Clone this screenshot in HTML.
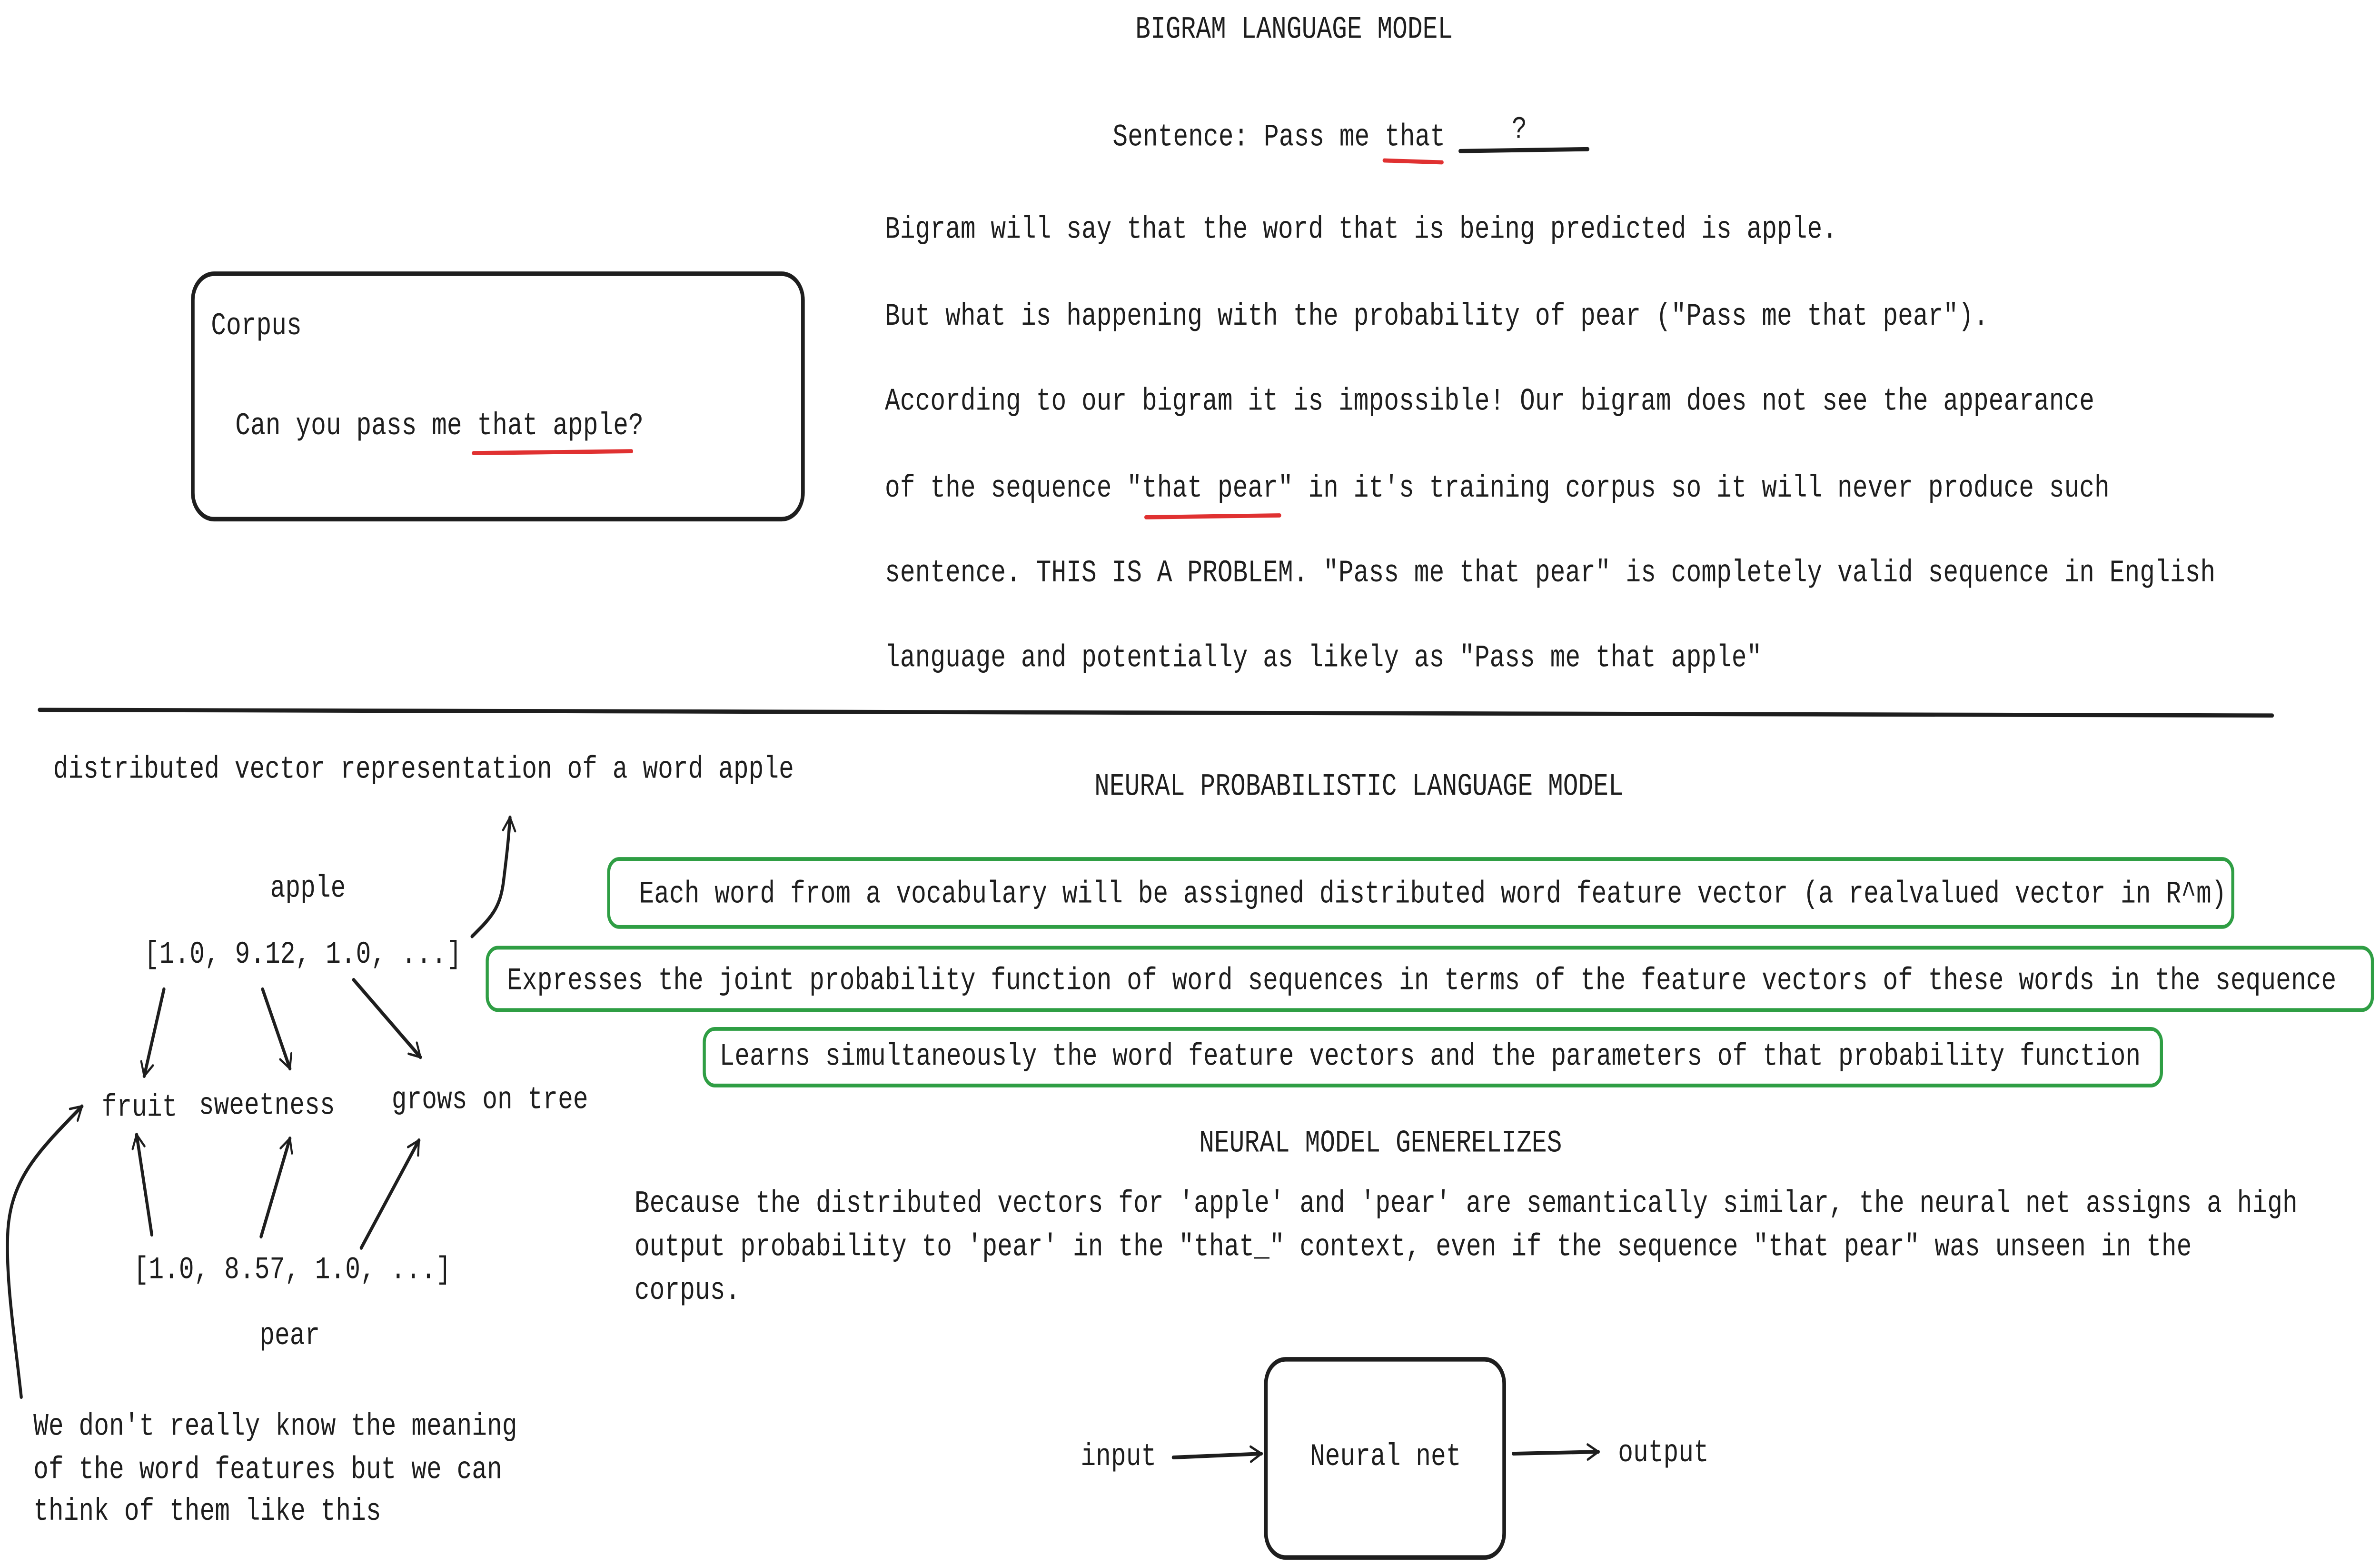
<!DOCTYPE html>
<html><head><meta charset="utf-8"><style>
html,body{margin:0;padding:0;background:#fff;width:100%;height:100%;overflow:hidden;}
svg{display:block;width:100vw;height:100vh;}
text{font-family:"Liberation Mono",monospace;font-size:16.6px;fill:#1e1e1e;}
</style></head><body>
<svg viewBox="0 0 1568 829.5" preserveAspectRatio="none" xmlns="http://www.w3.org/2000/svg">
<defs>
<marker id="a" viewBox="0 0 20 20" refX="18" refY="10" markerWidth="10" markerHeight="10" markerUnits="userSpaceOnUse" orient="auto">
<path d="M4,2 L18,10 L4,18" fill="none" stroke="#1e1e1e" stroke-width="2.6" stroke-linecap="round" stroke-linejoin="round"/>
</marker>
</defs>
<g stroke="#1e1e1e" stroke-width="2" fill="none" stroke-linecap="round">
<text x="748" y="20" stroke="none">BIGRAM LANGUAGE MODEL</text>
<text x="733" y="77" stroke="none">Sentence: Pass me that</text>
<text x="996" y="73" stroke="none">?</text>
<line x1="962" y1="80" x2="1046" y2="79" stroke-width="2.2"/>
<line x1="912" y1="85" x2="950" y2="86" stroke="#e03131" stroke-width="2.2"/>
<text x="583" y="126" stroke="none">Bigram will say that the word that is being predicted is apple.</text>
<text x="583" y="172" stroke="none">But what is happening with the probability of pear ("Pass me that pear").</text>
<text x="583" y="217" stroke="none">According to our bigram it is impossible! Our bigram does not see the appearance</text>
<text x="583" y="263" stroke="none">of the sequence "that pear" in it's training corpus so it will never produce such</text>
<line x1="755" y1="274" x2="843" y2="273" stroke="#e03131" stroke-width="2.2"/>
<text x="583" y="308" stroke="none">sentence. THIS IS A PROBLEM. "Pass me that pear" is completely valid sequence in English</text>
<text x="583" y="353" stroke="none">language and potentially as likely as "Pass me that apple"</text>
<rect x="127" y="145" width="402" height="130" rx="14" stroke-width="2.4"/>
<text x="139" y="177" stroke="none">Corpus</text>
<text x="155" y="230" stroke="none">Can you pass me that apple?</text>
<line x1="312" y1="240" x2="416" y2="239" stroke="#e03131" stroke-width="2.2"/>
<line x1="26" y1="376" x2="1497" y2="379" stroke-width="2.2"/>
<text x="721" y="421" stroke="none">NEURAL PROBABILISTIC LANGUAGE MODEL</text>
<rect x="401" y="455" width="1070" height="36" rx="7" stroke="#2f9e44"/>
<text x="421" y="478" stroke="none">Each word from a vocabulary will be assigned distributed word feature vector (a realvalued vector in R^m)</text>
<rect x="321" y="502" width="1242" height="33" rx="7" stroke="#2f9e44"/>
<text x="334" y="524" stroke="none">Expresses the joint probability function of word sequences in terms of the feature vectors of these words in the sequence</text>
<rect x="464" y="545" width="960" height="30" rx="7" stroke="#2f9e44"/>
<text x="474" y="564" stroke="none">Learns simultaneously the word feature vectors and the parameters of that probability function</text>
<text x="790" y="610" stroke="none">NEURAL MODEL GENERELIZES</text>
<text x="418" y="642" stroke="none">Because the distributed vectors for 'apple' and 'pear' are semantically similar, the neural net assigns a high</text>
<text x="418" y="665" stroke="none">output probability to 'pear' in the "that_" context, even if the sequence "that pear" was unseen in the</text>
<text x="418" y="688" stroke="none">corpus.</text>
<text x="712" y="776" stroke="none">input</text>
<line x1="773" y1="772" x2="831" y2="770" marker-end="url(#a)"/>
<rect x="834" y="720" width="157" height="105" rx="13" stroke-width="2.4"/>
<text x="863" y="776" stroke="none">Neural net</text>
<line x1="997" y1="770" x2="1053" y2="769" marker-end="url(#a)"/>
<text x="1066" y="774" stroke="none">output</text>
<text x="35" y="412" stroke="none">distributed vector representation of a word apple</text>
<text x="178" y="475" stroke="none">apple</text>
<text x="95" y="510" stroke="none">[1.0, 9.12, 1.0, ...]</text>
<path d="M311,496 C325,485 330,480 332,465 C334,452 335,445 336,433" marker-end="url(#a)"/>
<line x1="108" y1="524" x2="95" y2="570" marker-end="url(#a)"/>
<line x1="173" y1="524" x2="191" y2="566" marker-end="url(#a)"/>
<line x1="233" y1="519" x2="277" y2="560" marker-end="url(#a)"/>
<text x="67" y="591" stroke="none">fruit</text>
<text x="131" y="590" stroke="none">sweetness</text>
<text x="258" y="587" stroke="none">grows on tree</text>
<text x="88" y="677" stroke="none">[1.0, 8.57, 1.0, ...]</text>
<text x="171" y="712" stroke="none">pear</text>
<line x1="100" y1="654" x2="90" y2="601" marker-end="url(#a)"/>
<line x1="172" y1="655" x2="191" y2="603" marker-end="url(#a)"/>
<line x1="238" y1="661" x2="276" y2="604" marker-end="url(#a)"/>
<path d="M14,740 C10,710 4,680 5,655 C6,625 25,610 54,586" marker-end="url(#a)"/>
<text x="22" y="760" stroke="none">We don't really know the meaning</text>
<text x="22" y="783" stroke="none">of the word features but we can</text>
<text x="22" y="805" stroke="none">think of them like this</text>
</g>
</svg>
</body></html>
